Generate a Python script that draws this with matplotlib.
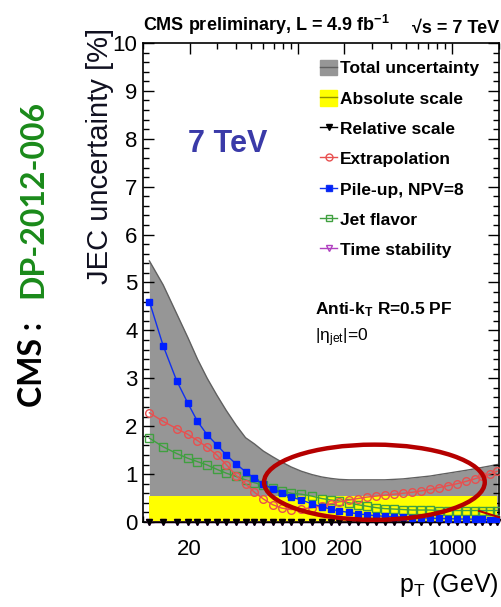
import matplotlib
matplotlib.use("Agg")
import matplotlib.pyplot as plt
from matplotlib.patches import Patch, Ellipse
from matplotlib.lines import Line2D
from matplotlib.ticker import MultipleLocator, FixedLocator, NullFormatter

plt.rcParams['font.family'] = ['Liberation Sans', 'DejaVu Sans']
plt.rcParams['mathtext.fontset'] = 'custom'
plt.rcParams['mathtext.rm'] = 'Liberation Sans'
plt.rcParams['mathtext.bf'] = 'Liberation Sans:bold'
plt.rcParams['mathtext.it'] = 'Liberation Sans:italic'

# jet pT points (GeV)
pt = [11, 13.5, 16.5, 19.5, 22.5, 26, 30, 34.5, 40, 46, 52.5, 60, 69, 79, 90.5,
      105.5, 123.5, 143, 163.5, 185, 215, 245, 280, 320, 365, 420, 480, 550,
      630, 720, 820, 940, 1075, 1230, 1390, 1560, 1750, 1950]

total = [5.45, 4.95, 4.35, 3.85, 3.4, 3.0, 2.65, 2.33, 2.02, 1.76, 1.63, 1.48,
         1.36, 1.25, 1.15, 1.06, 0.99, 0.94, 0.91, 0.89, 0.88, 0.88, 0.88, 0.88,
         0.88, 0.89, 0.90, 0.92, 0.94, 0.96, 0.99, 1.02, 1.05, 1.08, 1.11, 1.14,
         1.17, 1.20]

absolute = [0.55] * len(pt)
relative = [0.0] * len(pt)
time_stab = [0.0] * len(pt)

extrap = [2.28, 2.1, 1.95, 1.83, 1.7, 1.56, 1.4, 1.2, 0.97, 0.8, 0.62, 0.48,
          0.36, 0.29, 0.26, 0.27, 0.30, 0.34, 0.38, 0.42, 0.46, 0.49, 0.52,
          0.54, 0.56, 0.58, 0.60, 0.62, 0.65, 0.68, 0.72, 0.76, 0.80, 0.85,
          0.90, 0.95, 1.00, 1.06]

pileup = [4.6, 3.68, 2.95, 2.48, 2.1, 1.82, 1.61, 1.4, 1.21, 1.05, 0.91, 0.79,
          0.69, 0.61, 0.52, 0.46, 0.38, 0.32, 0.27, 0.23, 0.2, 0.17, 0.15,
          0.13, 0.12, 0.11, 0.10, 0.09, 0.085, 0.08, 0.075, 0.07, 0.065, 0.06,
          0.06, 0.055, 0.05, 0.05]

flavor = [1.75, 1.57, 1.43, 1.33, 1.26, 1.19, 1.10, 1.02, 0.95, 0.88, 0.82,
          0.77, 0.70, 0.65, 0.60, 0.58, 0.54, 0.49, 0.46, 0.44, 0.40, 0.36,
          0.33, 0.30, 0.28, 0.27, 0.26, 0.25, 0.25, 0.25, 0.24, 0.24, 0.24,
          0.24, 0.24, 0.24, 0.24, 0.24]

xticks = [20, 100, 200, 1000]
minor_x = [10, 30, 40, 50, 60, 70, 80, 90, 300, 400, 500, 600, 700, 800, 900, 2000]

fig = plt.figure(figsize=(5.02, 6.07), dpi=100)
ax = fig.add_axes([143 / 502, 85 / 607, 356 / 502, 479 / 607])

ax.fill_between(pt, 0, total, color='#969696', lw=0, zorder=1)
ax.plot(pt, total, color='#606060', lw=1.0, zorder=1.5)
ax.fill_between(pt, 0, absolute, color='#ffff00', lw=0, zorder=2)

ax.plot(pt, time_stab, color='#b040c0', lw=1, marker='v', ms=5, mfc='none',
        mec='#b040c0', zorder=3, clip_on=False)
ax.plot(pt, relative, color='black', lw=1, marker='v', ms=4, zorder=3.2,
        clip_on=False)
ax.plot(pt, flavor, color='#40a040', lw=1, marker='s', ms=5.5, mfc='none',
        mec='#40a040', mew=1.0, zorder=4)
ax.plot(pt, extrap, color='#e85050', lw=1, marker='o', ms=5.5, mfc='none',
        mec='#e85050', mew=1.0, zorder=5)
ax.plot(pt, pileup, color='#1030f0', lw=1, marker='s', ms=5, mfc='#0020ff',
        mec='#0020ff', zorder=6)

ax.set_xscale('log')
ax.set_xlim(10, 2000)
ax.set_ylim(0, 10)
ax.xaxis.set_major_locator(FixedLocator(xticks))
ax.xaxis.set_minor_locator(FixedLocator(minor_x))
ax.xaxis.set_minor_formatter(NullFormatter())
ax.set_xticklabels([str(v) for v in xticks])
ax.yaxis.set_major_locator(MultipleLocator(1))
ax.yaxis.set_minor_locator(MultipleLocator(0.2))
ax.tick_params(which='both', direction='in', top=True, right=True,
               labelsize=16, width=1.0, pad=4)
ax.tick_params(which='major', length=8)
ax.tick_params(which='minor', length=4)
ax.tick_params(axis='x', pad=12)
for s in ax.spines.values():
    s.set_linewidth(1.2)

ax.set_xlabel('p$_\\mathrm{T}$ (GeV)', fontsize=18, loc='right', labelpad=8)
fig.text(100 / 502, 1 - 28 / 607, 'JEC uncertainty [%]', rotation=90,
         fontsize=21, color='#101020', ha='center', va='top')

ax.text(0.0, 1.012, 'CMS preliminary, L = 4.9 fb$^\\mathbf{-1}$',
        transform=ax.transAxes, fontsize=13, fontweight='bold', ha='left', va='bottom')
ax.text(1.0, 1.012, '\u221as = 7 TeV', transform=ax.transAxes, fontsize=13,
        fontweight='bold', ha='right', va='bottom')

ax.text(0.125, 0.79, '7 TeV', transform=ax.transAxes, fontsize=22,
        fontweight='bold', color='#3a3aa8', ha='left', va='center')
ax.text(0.483, 0.443, 'Anti-k$_\\mathbf{T}$ R=0.5 PF', transform=ax.transAxes,
        fontsize=12.5, fontweight='bold', ha='left', va='center')
ax.text(0.483, 0.385, '|$\\mathrm{\\eta}_\\mathrm{jet}$|=0', transform=ax.transAxes,
        fontsize=12.5, ha='left', va='center')

handles = [
    (Patch(facecolor='#969696', edgecolor='#969696'), Line2D([], [], color='#606060', lw=1)),
    (Patch(facecolor='#ffff00', edgecolor='#ffff00'), Line2D([], [], color='#909000', lw=1)),
    Line2D([], [], color='black', lw=1, marker='v', ms=4),
    Line2D([], [], color='#e85050', lw=1, marker='o', ms=5, mfc='none'),
    Line2D([], [], color='#1030f0', lw=1, marker='s', ms=5, mfc='#0020ff'),
    Line2D([], [], color='#40a040', lw=1, marker='s', ms=5, mfc='none'),
    Line2D([], [], color='#b040c0', lw=1, marker='v', ms=5, mfc='none'),
]
labels = ['Total uncertainty', 'Absolute scale', 'Relative scale', 'Extrapolation',
          'Pile-up, NPV=8', 'Jet flavor', 'Time stability']
leg = ax.legend(handles, labels, loc='upper left', bbox_to_anchor=(0.497, 0.965),
                frameon=False, prop={'weight': 'bold', 'size': 12.5},
                handlelength=1.0, handleheight=1.0, handletextpad=0.15,
                labelspacing=0.78, borderpad=0.0, borderaxespad=0.0)

ell = Ellipse((0.65, 0.083), 0.62, 0.157, transform=ax.transAxes, fill=False,
              edgecolor='#b50000', lw=3.2, zorder=10, clip_on=False)
ax.add_patch(ell)
ax.plot([0.944, 1.0], [0.023, 0.010], transform=ax.transAxes, color='#b50000',
        lw=1.5, zorder=10, clip_on=False)

fig.text(0.065, 0.835, 'DP-2012-006', rotation=90, fontsize=23, fontweight='bold',
         color='#1a8a1a', family='Lato', ha='center', va='top')
fig.text(0.065, 0.329, 'CMS : ', rotation=90, fontsize=23, fontweight='bold',
         color='black', family='Lato', ha='center', va='bottom')

fig.savefig('out.png', dpi=100)
